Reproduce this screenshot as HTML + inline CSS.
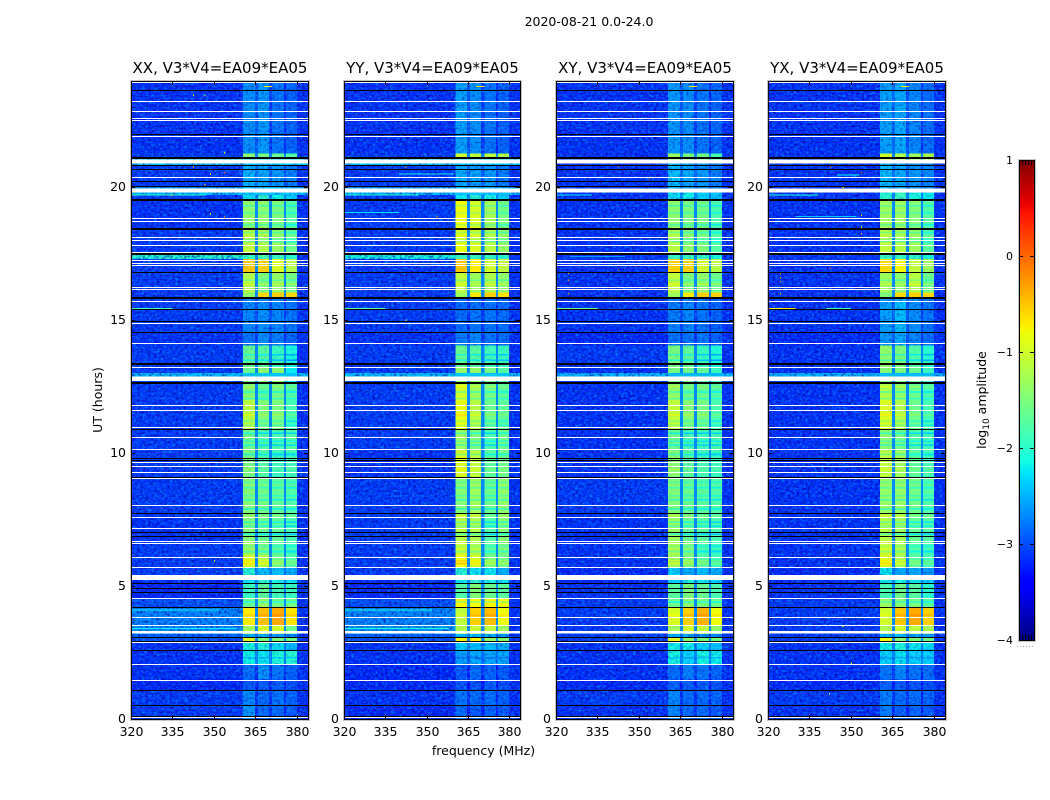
<!DOCTYPE html>
<html lang="en">
<head>
<meta charset="utf-8">
<title>2020-08-21 0.0-24.0</title>
<style>
html,body{margin:0;padding:0;background:#fff;width:1050px;height:800px;overflow:hidden}
svg{display:block}
text{font-family:"DejaVu Sans","Liberation Sans",sans-serif;fill:#000}
.tick{font-size:12.5px}
.title{font-size:15px}
.label{font-size:12.5px}
</style>
</head>
<body>
<svg id="chart" width="1050" height="800" viewBox="0 0 1050 800" xmlns="http://www.w3.org/2000/svg">
  <defs>
    <filter id="speckle-bright" filterUnits="userSpaceOnUse" x="0" y="0" width="1050" height="800" color-interpolation-filters="sRGB">
      <feTurbulence type="fractalNoise" baseFrequency="0.33 0.41" numOctaves="2" seed="7"/>
      <feColorMatrix type="matrix" values="0 0 0 0 0  0 0 0 0 0.6  0 0 0 0 1  3 0 0 0 -1.35"/>
      <feComposite in2="SourceAlpha" operator="in"/>
    </filter>
    <filter id="speckle-dark" filterUnits="userSpaceOnUse" x="0" y="0" width="1050" height="800" color-interpolation-filters="sRGB">
      <feTurbulence type="fractalNoise" baseFrequency="0.37 0.43" numOctaves="2" seed="11"/>
      <feColorMatrix type="matrix" values="0 0 0 0 0  0 0 0 0 0  0 0 0 0 0.6  0 3 0 0 -1.35"/>
      <feComposite in2="SourceAlpha" operator="in"/>
    </filter>
  </defs>
  <text class="label" x="589" y="26" text-anchor="middle">2020-08-21 0.0-24.0</text>
  <text class="label" x="483.5" y="755" text-anchor="middle">frequency (MHz)</text>
  <text class="label" transform="translate(102,400) rotate(-90)" text-anchor="middle">UT (hours)</text>
  <text class="label" transform="translate(986,400) rotate(-90)" text-anchor="middle">log<tspan font-size="9" dy="3">10</tspan><tspan dy="-3"> amplitude</tspan></text>
  <g id="panels"></g>
  <g id="colorbar"></g>
</svg>
<script>
// ---- chart data (log10 amplitude, hours, MHz) ----
const panelNames = ["XX, V3*V4=EA09*EA05", "YY, V3*V4=EA09*EA05", "XY, V3*V4=EA09*EA05", "YX, V3*V4=EA09*EA05"];
const xTicks = [320, 335, 350, 365, 380];
const yTicks = [0, 5, 10, 15, 20];
const colorTicks = [1, 0, -1, -2, -3, -4];

// column edges in MHz: background, band 1..4 separated by gaps, right margin
const bandStart = [360.5, 365.9, 371, 376];
const bandEnd = [364.8, 369.9, 375.3, 380];
const rightMarginLevel = -3.15;
const gapCeiling = -2.7;

// time segment edges in hours
const timeEdges = [0, 0.5, 1.1, 1.5, 2.05, 2.6, 2.9, 3.08, 3.2, 3.53, 4.21, 4.55, 5.11, 5.41, 5.71, 6.17, 6.69, 7.74, 9.06, 10.1, 10.9, 12, 12.67, 13.23, 14.05, 14.55, 15.83, 16.05, 16.8, 17.3, 17.55, 18.46, 19.55, 19.96, 20.9, 21.28, 24];

// each row: [background, band1, band2, band3, band4]
const levelsXX = [
[-3.1,-2.6,-2.85,-2.85,-2.95],[-3.1,-2.7,-2.85,-2.8,-2.9],[-3.2,-2.95,-2.95,-2.95,-3.0],[-3.15,-2.85,-2.65,-2.8,-2.9],
[-3.15,-2.15,-2.2,-2.05,-2.0],[-3.15,-2.1,-2.05,-2.25,-2.45],[-3.0,-0.9,-1.5,-1.5,-1.55],[-2.9,-2.5,-2.5,-2.6,-2.7],
[-2.65,-1.3,-0.95,-1.0,-1.6],[-2.7,-0.7,-0.45,-0.35,-0.65],[-3.0,-1.6,-1.35,-1.55,-1.55],[-3.2,-1.9,-1.65,-1.85,-1.9],
[-3.2,-2.2,-2.0,-2.1,-2.2],[-3.1,-2.0,-2.4,-2.4,-2.5],[-3.1,-0.95,-1.2,-1.6,-1.8],[-3.1,-1.3,-1.5,-1.7,-1.85],
[-3.15,-1.45,-1.6,-1.65,-1.8],[-3.1,-1.45,-1.55,-1.65,-1.75],[-3.1,-1.5,-1.75,-1.9,-1.85],[-3.1,-1.55,-1.75,-1.8,-1.75],
[-3.1,-1.15,-1.5,-1.5,-1.85],[-3.1,-1.45,-1.7,-1.55,-1.75],[-3.1,-1.6,-1.4,-1.4,-2.2],[-3.1,-1.6,-1.7,-1.9,-2.1],
[-3.15,-2.8,-2.65,-2.75,-2.9],[-3.1,-2.7,-2.65,-2.7,-2.8],[-3.1,-1.4,-0.6,-0.55,-0.6],[-3.1,-1.2,-1.5,-1.35,-1.55],
[-3.1,-0.5,-0.55,-0.95,-1.2],[-2.0,-1.9,-1.8,-1.9,-2.0],[-3.1,-1.1,-1.2,-1.35,-1.6],[-3.15,-1.4,-1.4,-1.5,-1.75],
[-3.1,-2.25,-1.95,-2.15,-2.3],[-3.1,-2.45,-2.5,-2.6,-2.75],[-3.1,-1.4,-1.5,-1.6,-1.75],[-3.15,-2.65,-2.6,-2.8,-2.9]
];
const levelsYY = [
[-3.2,-2.85,-2.95,-2.9,-2.95],[-3.15,-2.8,-2.85,-2.85,-2.9],[-3.2,-3.0,-3.0,-2.95,-3.0],[-3.2,-2.95,-2.85,-2.9,-2.95],
[-3.15,-2.55,-2.5,-2.5,-2.5],[-3.15,-2.3,-2.4,-2.4,-2.5],[-3.0,-0.75,-0.75,-1.35,-1.45],[-2.9,-2.4,-2.4,-2.5,-2.6],
[-2.6,-1.2,-1.05,-1.1,-1.3],[-2.7,-1.1,-0.55,-0.45,-0.8],[-3.0,-0.75,-0.8,-0.75,-0.8],[-3.2,-1.75,-1.45,-1.6,-1.7],
[-3.2,-2.2,-2.0,-2.1,-2.2],[-3.1,-2.0,-2.2,-2.2,-2.5],[-3.1,-0.8,-1.0,-1.5,-1.6],[-3.1,-1.0,-1.15,-1.7,-1.5],
[-3.1,-1.15,-1.2,-1.75,-1.45],[-3.1,-1.45,-1.3,-1.6,-1.4],[-3.15,-0.95,-1.1,-1.7,-1.6],[-3.1,-1.3,-1.5,-1.8,-1.6],
[-3.1,-0.85,-1.15,-1.6,-1.7],[-3.1,-1.0,-1.3,-1.55,-1.7],[-3.1,-1.35,-1.35,-1.55,-1.75],[-3.1,-1.6,-1.7,-1.85,-1.9],
[-3.15,-2.75,-2.7,-2.8,-2.85],[-3.1,-2.85,-2.8,-2.8,-2.85],[-3.1,-1.3,-0.7,-0.55,-0.65],[-3.1,-1.1,-1.3,-1.2,-1.4],
[-3.1,-0.5,-0.7,-1.0,-1.1],[-2.1,-1.9,-1.9,-1.9,-2.0],[-3.1,-0.85,-0.95,-1.15,-1.35],[-3.1,-0.8,-0.95,-1.25,-1.55],
[-3.1,-2.2,-2.0,-2.1,-2.3],[-3.1,-2.5,-2.55,-2.6,-2.75],[-3.1,-1.0,-1.1,-1.1,-1.2],[-3.15,-2.55,-2.65,-2.8,-2.9]
];
const levelsXY = [
[-3.15,-2.7,-2.85,-2.85,-2.95],[-3.1,-2.7,-2.85,-2.85,-2.9],[-3.2,-2.95,-2.95,-2.95,-3.0],[-3.15,-2.85,-2.75,-2.8,-2.9],
[-3.15,-2.1,-2.3,-2.1,-2.15],[-3.15,-2.15,-2.15,-2.3,-2.4],[-3.1,-0.9,-1.4,-1.5,-1.55],[-3.1,-2.5,-2.5,-2.6,-2.7],
[-3.1,-1.3,-1.0,-1.1,-1.4],[-3.1,-0.95,-0.55,-0.4,-0.8],[-3.1,-1.6,-1.4,-1.5,-1.6],[-3.15,-1.7,-1.5,-1.6,-1.8],
[-3.2,-2.3,-2.1,-2.2,-2.3],[-3.2,-2.3,-2.5,-2.4,-2.5],[-3.15,-1.3,-1.5,-1.75,-1.9],[-3.15,-1.2,-1.45,-1.8,-1.9],
[-3.15,-1.3,-1.6,-1.7,-1.8],[-3.1,-1.45,-1.6,-1.7,-1.75],[-3.15,-1.4,-1.7,-1.85,-1.9],[-3.15,-1.6,-1.8,-1.85,-1.8],
[-3.15,-1.1,-1.45,-1.55,-1.8],[-3.15,-1.35,-1.6,-1.6,-1.75],[-3.15,-1.5,-1.55,-1.65,-1.9],[-3.1,-1.5,-1.65,-1.9,-2.05],
[-3.2,-2.8,-2.8,-2.8,-2.9],[-3.15,-2.75,-2.7,-2.8,-2.9],[-3.15,-1.3,-0.7,-0.55,-0.55],[-3.15,-1.1,-1.5,-1.4,-1.6],
[-3.15,-0.55,-0.55,-1.0,-1.15],[-3.1,-1.9,-1.9,-1.95,-2.1],[-3.15,-1.15,-1.4,-1.5,-1.75],[-3.15,-1.4,-1.5,-1.55,-1.8],
[-3.15,-2.25,-2.15,-2.3,-2.4],[-3.15,-2.4,-2.5,-2.6,-2.75],[-3.15,-1.3,-1.5,-1.55,-1.8],[-3.15,-2.6,-2.65,-2.8,-2.9]
];
const levelsYX = [
[-3.15,-2.75,-2.9,-2.9,-2.95],[-3.1,-2.75,-2.85,-2.85,-2.9],[-3.2,-2.9,-2.95,-3.0,-3.0],[-3.15,-2.8,-2.7,-2.8,-2.85],
[-3.15,-2.3,-2.2,-2.3,-2.3],[-3.15,-2.15,-2.05,-2.2,-2.25],[-3.1,-0.8,-1.4,-1.5,-1.55],[-3.1,-2.4,-2.4,-2.5,-2.6],
[-3.1,-1.2,-1.0,-1.1,-1.25],[-3.1,-1.0,-0.5,-0.35,-0.55],[-3.1,-1.3,-1.4,-1.5,-1.7],[-3.15,-1.8,-1.55,-1.7,-2.0],
[-3.2,-2.2,-2.1,-2.2,-2.3],[-3.2,-2.2,-2.5,-2.5,-2.6],[-3.15,-0.95,-1.25,-1.75,-1.9],[-3.15,-1.0,-1.2,-1.75,-1.85],
[-3.15,-1.15,-1.25,-1.65,-1.75],[-3.15,-1.35,-1.35,-1.55,-1.75],[-3.15,-1.1,-1.3,-1.7,-1.85],[-3.15,-1.4,-1.55,-1.75,-1.85],
[-3.15,-0.95,-1.2,-1.6,-1.85],[-3.15,-1.2,-1.4,-1.6,-1.8],[-3.15,-1.45,-1.5,-1.6,-1.9],[-3.15,-1.35,-1.5,-1.75,-2.0],
[-3.2,-2.6,-2.5,-2.7,-2.85],[-3.15,-2.55,-2.4,-2.65,-2.8],[-3.15,-1.5,-0.6,-0.55,-0.6],[-3.15,-1.3,-1.4,-1.15,-1.6],
[-3.15,-0.6,-0.75,-1.1,-1.3],[-3.1,-1.9,-1.9,-1.95,-2.1],[-3.15,-1.1,-1.2,-1.3,-1.7],[-3.15,-1.3,-1.3,-1.45,-1.75],
[-3.15,-2.0,-1.9,-2.1,-2.2],[-3.15,-2.4,-2.5,-2.6,-2.7],[-3.15,-1.0,-1.2,-1.3,-1.2],[-3.15,-2.55,-2.5,-2.7,-2.85]
];
const panelLevels = [levelsXX, levelsYY, levelsXY, levelsYX];

// thin horizontal structure across the bands: hour, change in log amplitude
const bandStreakHours = [11.45, 11.2, 11.05, 10.75, 10.45, 10.3, 9.95, 9.4, 8.9, 8.7, 8.4, 8.25, 7.9, 7.65, 7.4, 7.25, 6.95, 6.5, 6.3, 5.95, 5.85, 19.3, 19.05, 18.6, 18.3, 18.05, 17.95, 16.5, 16.35, 13.7, 13.5, 12.5, 12.3, 12.05, 4.4, 3.9, 2.3];
const bandStreakDeltas = [0.25, -0.4, -0.3, -0.5, -0.35, -0.5, -0.4, 0.2, -0.3, -0.4, -0.35, -0.5, -0.4, 0.2, -0.5, -0.45, -0.6, -0.3, -0.4, 0.25, 0.3, -0.4, -0.35, -0.4, -0.4, -0.3, -0.4, -0.3, 0.2, -0.45, -0.5, 0.2, -0.4, -0.3, -0.4, 0.15, -0.3];

// flagged (no data) time ranges
const whiteThinHours = [23.95, 23.23, 22.89, 22.59, 22.52, 21.92, 20.38, 18.83, 18.72, 18.12, 18.01, 17.82, 17.56, 17.26, 17.14, 17.07, 16.24, 16.17, 15.71, 14.89, 14.14, 13.23, 11.80, 11.62, 10.98, 10.60, 10.15, 9.66, 9.51, 9.29, 9.06, 8.05, 7.59, 7.18, 6.69, 6.62, 6.09, 5.71, 4.55, 3.83, 3.53, 2.89, 2.07, 1.47, 0.08];
const whiteBlocks = [[20.90, 21.05], [19.81, 19.96], [12.71, 12.89], [5.23, 5.41], [3.21, 3.31]];
const blackThinHours = [23.68, 21.99, 20.83, 20.68, 20.23, 20.04, 16.80, 15.86, 15.83, 15.41, 14.96, 14.55, 10.90, 9.81, 9.74, 9.10, 7.74, 7.03, 6.88, 5.11, 4.92, 4.77, 4.21, 3.08, 2.93, 2.59, 1.09, 0.53, 0.11];
const blackThickHours = [21.13, 19.55, 18.46, 17.52, 13.38, 12.67];

// full-width washes: [panel index, start hour, end hour, level]
const washes = [
[0,13.02,12.89,-2.4],[1,13.02,12.89,-2.4],[2,13.02,12.89,-2.45],[3,13.02,12.89,-2.45],
[0,21.05,21.15,-2.3],[0,20.82,20.90,-2.35],[0,19.96,20.0,-2.3],[0,19.72,19.81,-2.4],
[1,21.05,21.15,-2.3],[1,20.82,20.90,-2.35],[1,19.96,20.0,-2.3],[1,19.72,19.81,-2.4]
];

// interference streaks: [panel index, hour, start MHz, end MHz, level]
const rfiStreaks = [
[0,23.8,368,371,-0.7],[1,23.8,368,371,-0.7],[2,23.8,368,371,-0.7],[3,23.8,368,371,-0.7],
[0,19.72,320,347,-2.0],[1,19.72,320,347,-2.0],[3,19.72,320,338,-2.0],[2,19.72,320,333,-2.2],
[0,15.45,320,335,-1.9],[1,15.45,320,335,-1.7],[2,15.45,320,335,-1.6],[3,15.45,320,330,-0.7],[3,15.45,341,350,-1.9],
[3,20.46,345,353,-2.2],[3,19.85,340,352,-2.4],[3,18.9,330,352,-2.4],[1,19.05,320,340,-2.3],[1,20.5,340,360,-2.2],
[0,4.1,320,352,-2.2],[0,3.4,320,358,-2.2],[1,4.1,320,352,-2.1],[1,3.4,320,358,-2.1],[2,17.4,325,345,-2.6]
];

// isolated hot channels: [panel index, hour, MHz, level]
const rfiPoints = [
[0,23.46,342.4,-0.9],[0,23.46,346.5,-1.2],[0,21.3,353.6,-0.8],[0,20.75,342.4,-0.4],[0,20.5,348.5,-0.8],[0,20.55,353.6,0.1],[0,20.1,346.5,-0.7],[0,19.7,334.5,-0.4],[0,18.9,353.6,-0.2],[0,19.0,348.5,-0.8],[0,5.95,350,-1],
[1,20.75,342.4,-0.4],[1,18.9,353.6,-0.3],[1,15.0,342.4,-0.6],
[2,16.77,324.3,-0.3],[2,16.5,324.3,-0.2],[2,16.0,324.3,-0.1],[2,20.8,342.4,0],[2,20.3,353.6,0.1],[2,16.9,342.4,0.1],
[3,18.95,353.6,-0.5],[3,18.7,353.6,-0.5],[3,18.5,353.6,-0.6],[3,18.25,353.6,-0.4],[3,16.95,342.4,0.1],[3,16.77,324.3,-0.3],[3,16.6,324.3,-0.3],[3,16.45,324.3,-0.3],[3,16.0,324.3,-0.4],[3,20.75,342.4,0.1],[3,20.55,353.6,0.1],[3,20.0,347,-0.7],[3,3.5,347,-1.1],[3,2.1,350,-1],[3,0.95,342,-1.2]
];

// ---- drawing ----
const SVG_NS = "http://www.w3.org/2000/svg";
const panelLeft = [131, 344, 556, 768];
const panelRight = [308, 520, 733, 945];
const plotTop = 81, plotBottom = 719;
const freqMin = 320, freqMax = 384, hourMin = 0, hourMax = 24;
const barLeft = 1019, barRight = 1034, barTop = 160, barBottom = 640, colorMin = -4, colorMax = 1;

function yScale(h) { return plotBottom - (h - hourMin) / (hourMax - hourMin) * (plotBottom - plotTop); }
function xScale(p, f) { return panelLeft[p] + (f - freqMin) / (freqMax - freqMin) * (panelRight[p] - panelLeft[p]); }
function barY(v) { return barBottom - (v - colorMin) / (colorMax - colorMin) * (barBottom - barTop); }
function clamp(x) { return Math.max(0, Math.min(1, x)); }
function jet(v) {
  const t = clamp((v - colorMin) / (colorMax - colorMin));
  const r = t < 0.35 ? 0 : t < 0.66 ? (t - 0.35) / 0.31 : t < 0.89 ? 1 : 1 - (t - 0.89) / 0.11 * 0.5;
  const g = t < 0.125 ? 0 : t < 0.375 ? (t - 0.125) / 0.25 : t < 0.64 ? 1 : t < 0.91 ? 1 - (t - 0.64) / 0.27 : 0;
  const b = t < 0.11 ? 0.5 + t / 0.11 * 0.5 : t < 0.34 ? 1 : t < 0.65 ? 1 - (t - 0.34) / 0.31 : 0;
  return "rgb(" + Math.round(r * 255) + "," + Math.round(g * 255) + "," + Math.round(b * 255) + ")";
}
function make(tag, attrs, parent) {
  const el = document.createElementNS(SVG_NS, tag);
  for (const k in attrs) el.setAttribute(k, attrs[k]);
  parent.appendChild(el);
  return el;
}
function hRect(p, parent, f0, f1, hHigh, hLow, fill) {
  const x0 = xScale(p, f0), x1 = xScale(p, f1), y0 = yScale(hHigh), y1 = yScale(hLow);
  return make("rect", { x: x0, y: y0, width: Math.max(x1 - x0, 1), height: Math.max(y1 - y0, 1), fill: fill, "shape-rendering": "crispEdges" }, parent);
}

const panelsRoot = document.getElementById("panels");
panelNames.forEach(function (name, p) {
  const g = make("g", {}, panelsRoot);
  
  
  const left = panelLeft[p], right = panelRight[p];

  const heat = make("g", {}, g);
  
  
  const rows = panelLevels[p];
  rows.forEach(function (row, i) {
    const h0 = timeEdges[i], h1 = timeEdges[i + 1];
    const bg = hRect(p, heat, freqMin, bandStart[0], h1, h0, jet(row[0]));
    
    
    bandStart.forEach(function (f, b) {
      const cell = hRect(p, heat, f, bandEnd[b], h1, h0, jet(row[b + 1]));
      
      
      const gapEnd = b < 3 ? bandStart[b + 1] : freqMax;
      const gapLevel = b < 3 ? Math.min(Math.min(row[b + 1], row[b + 2]) - 0.3, gapCeiling) : rightMarginLevel;
      const gap = hRect(p, heat, bandEnd[b], gapEnd, h1, h0, jet(gapLevel));
      
      
    });
  });

  bandStreakHours.forEach(function (h, s) {
    let idx = 0;
    while (idx < rows.length - 1 && timeEdges[idx + 1] <= h) idx++;
    bandStart.forEach(function (f, b) {
      const cell = hRect(p, heat, f, bandEnd[b], h + 0.03, h - 0.03, jet(rows[idx][b + 1] + bandStreakDeltas[s]));
      
      
    });
  });

  washes.filter(function (w) { return w[0] === p; }).forEach(function (w) {
    const r = hRect(p, heat, freqMin, freqMax, Math.max(w[1], w[2]), Math.min(w[1], w[2]), jet(w[3]));
    
    
  });

  const bandLeftX = xScale(p, bandStart[0]);
  const bandRightX = xScale(p, bandEnd[3]);
  ["speckle-bright", "speckle-dark"].forEach(function (fid) {
    const l = make("rect", { x: left, y: plotTop, width: bandLeftX - left, height: plotBottom - plotTop, fill: "#000", filter: "url(#" + fid + ")", opacity: 0.65 }, g);
    
    
    const r = make("rect", { x: bandRightX, y: plotTop, width: right - bandRightX, height: plotBottom - plotTop, fill: "#000", filter: "url(#" + fid + ")", opacity: 0.65 }, g);
    
    
    rows.forEach(function (row, i) {
      const mean = (row[1] + row[2] + row[3] + row[4]) / 4;
      const base = Math.max(0, Math.min(0.7, (-1.5 - mean) * 0.6));
      const amount = fid === "speckle-dark" ? base * 0.6 : base;
      if (amount <= 0) return;
      const y0 = yScale(timeEdges[i + 1]), y1 = yScale(timeEdges[i]);
      const b = make("rect", { x: bandLeftX, y: y0, width: bandRightX - bandLeftX, height: y1 - y0, fill: "#000", filter: "url(#" + fid + ")", opacity: amount }, g);
      
      
    });
  });

  rfiStreaks.filter(function (s) { return s[0] === p; }).forEach(function (s) {
    const r = hRect(p, g, s[2], s[3], s[1] + 0.015, s[1] - 0.015, jet(s[4]));
    
    
  });
  rfiPoints.filter(function (s) { return s[0] === p; }).forEach(function (s) {
    const r = hRect(p, g, s[2], s[2] + 0.4, s[1] + 0.03, s[1] - 0.03, jet(s[3]));
    
    
  });

  whiteThinHours.forEach(function (h) {
    const r = make("rect", { x: left, y: Math.round(yScale(h)), width: right - left, height: 1, fill: "#fff", "shape-rendering": "crispEdges" }, g);
    
    
  });
  whiteBlocks.forEach(function (w) {
    const r = hRect(p, g, freqMin, freqMax, w[1], w[0], "#fff");
    
    
  });
  blackThinHours.forEach(function (h) {
    const r = make("rect", { x: left, y: Math.round(yScale(h)), width: right - left, height: 1, fill: "#000", "shape-rendering": "crispEdges" }, g);
    
    
  });
  blackThickHours.forEach(function (h) {
    const r = make("rect", { x: left, y: Math.round(yScale(h)), width: right - left, height: 2, fill: "#000", "shape-rendering": "crispEdges" }, g);
    
    
  });

  const outer = make("rect", { x: left - 0.5, y: plotTop - 0.5, width: right - left + 2, height: plotBottom - plotTop + 2, fill: "none", stroke: "#c4c4c4", "stroke-width": 1 }, g);
  
  
  const frame = make("rect", { x: left + 0.5, y: plotTop + 0.5, width: right - left, height: plotBottom - plotTop, fill: "none", stroke: "#000", "stroke-width": 1 }, g);
  
  

  const title = make("text", { x: (left + right) / 2 + 0.5, y: 73, "text-anchor": "middle", class: "title" }, g);
  title.textContent = name;
  
  

  xTicks.forEach(function (t) {
    const x = Math.round(xScale(p, t)) + 0.5;
    const a = make("line", { x1: x, x2: x, y1: plotBottom, y2: plotBottom - 4, stroke: "#000" }, g);
    
    
    const b = make("line", { x1: x, x2: x, y1: plotTop, y2: plotTop + 4, stroke: "#000" }, g);
    
    
    const lab = make("text", { x: x, y: 736, "text-anchor": "middle", class: "tick" }, g);
    lab.textContent = t;
    
    
  });
  yTicks.forEach(function (t) {
    const y = Math.round(yScale(t)) + 0.5;
    const a = make("line", { x1: left, x2: left + 4, y1: y, y2: y, stroke: "#000" }, g);
    
    
    const b = make("line", { x1: right, x2: right - 4, y1: y, y2: y, stroke: "#000" }, g);
    
    
    const lab = make("text", { x: left - 5, y: y + 3.5, "text-anchor": "end", class: "tick" }, g);
    lab.textContent = t;
    
    
  });
});

const barRoot = document.getElementById("colorbar");
for (let i = 0; i < 240; i++) {
  const v0 = colorMin + i / 240 * (colorMax - colorMin);
  const v1 = colorMin + (i + 1) / 240 * (colorMax - colorMin);
  const seg = make("rect", { x: barLeft, y: barY(v1), width: barRight - barLeft, height: barY(v0) - barY(v1) + 0.5, fill: jet((v0 + v1) / 2), "shape-rendering": "crispEdges" }, barRoot);
  
  
}
const barOuter = make("rect", { x: barLeft - 0.5, y: barTop - 0.5, width: barRight - barLeft + 2, height: barBottom - barTop + 2, fill: "none", stroke: "#c4c4c4" }, barRoot);


const barFrame = make("rect", { x: barLeft + 0.5, y: barTop + 0.5, width: barRight - barLeft, height: barBottom - barTop, fill: "none", stroke: "#000" }, barRoot);


colorTicks.forEach(function (t) {
  const y = Math.round(barY(t)) + 0.5;
  const a = make("line", { x1: barLeft, x2: barLeft + 4, y1: y, y2: y, stroke: "#000" }, barRoot);
  
  
  const b = make("line", { x1: barRight, x2: barRight - 4, y1: y, y2: y, stroke: "#000" }, barRoot);
  
  
  const lab = make("text", { x: barLeft - 6, y: y + 3.5, "text-anchor": "end", class: "tick", style: "font-size:11px" }, barRoot);
  lab.textContent = String(t).replace("-", "\u2212");
  
  
});
[1022, 1025, 1028, 1031].forEach(function (x) {
  const a = make("line", { x1: x + 0.5, x2: x + 0.5, y1: barTop, y2: barTop + 5, stroke: "#000" }, barRoot);
  
  
  const b = make("line", { x1: x + 0.5, x2: x + 0.5, y1: barBottom, y2: barBottom - 5, stroke: "#000" }, barRoot);
  
  
});
[1017, 1020, 1023, 1026, 1029, 1032].forEach(function (x) {
  const d = make("rect", { x: x, y: 646, width: 1, height: 1, fill: "#999" }, barRoot);
  
  
});
</script>
</body>
</html>
